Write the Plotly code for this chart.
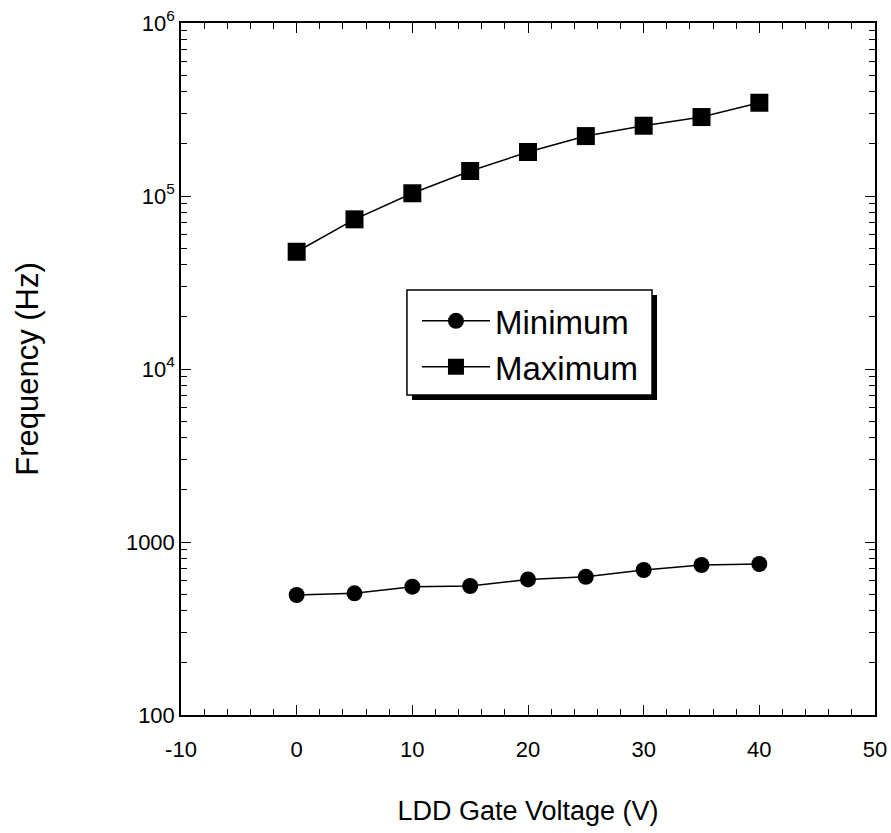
import plotly.graph_objects as go

# LDD gate voltage sweep and measured frequency limits
gate_voltage = [0, 5, 10, 15, 20, 25, 30, 35, 40]
freq_minimum = [494, 505, 552, 557, 608, 629, 689, 736, 746]
freq_maximum = [47600, 73300, 103700, 139500, 179600, 222000, 254800, 286000, 346000]

x_tickvals = [-10, 0, 10, 20, 30, 40, 50]
x_ticktext = ["-10", "0", "10", "20", "30", "40", "50"]
y_tickvals = [100, 1000, 1e4, 1e5, 1e6]
y_ticktext = ["100", "1000", "10<sup>4</sup>", "10<sup>5</sup>", "10<sup>6</sup>"]
y_minor = [m * 10 ** e for e in range(2, 6) for m in range(2, 10)]

FONT = "Liberation Sans, Arial, Helvetica, sans-serif"

fig = go.Figure()
fig.add_trace(go.Scatter(
    x=gate_voltage, y=freq_minimum, name="Minimum", mode="lines+markers",
    line=dict(color="black", width=1.5),
    marker=dict(symbol="circle", size=16, color="black"),
))
fig.add_trace(go.Scatter(
    x=gate_voltage, y=freq_maximum, name="Maximum", mode="lines+markers",
    line=dict(color="black", width=1.5),
    marker=dict(symbol="square", size=18, color="black"),
))

axis_common = dict(
    showline=True, linecolor="black", linewidth=1.5, mirror="allticks",
    ticks="inside", tickcolor="black", showgrid=False, zeroline=False,
    automargin=False,
    tickfont=dict(family=FONT, size=22, color="black"),
)

fig.update_xaxes(
    range=[-10, 50], tickvals=x_tickvals, ticktext=x_ticktext, ticklen=10, tickwidth=1.2,
    ticklabelstandoff=14,
    minor=dict(dtick=2, ticks="inside", ticklen=6, tickcolor="black", showgrid=False),
    title=dict(text="LDD Gate Voltage (V)", font=dict(family=FONT, size=27, color="black"), standoff=40),
    **axis_common,
)
fig.update_yaxes(
    type="log", range=[2, 6], tickvals=y_tickvals, ticktext=y_ticktext, ticklen=10, tickwidth=1.2,
    minor=dict(tickvals=y_minor, ticks="inside", ticklen=6, tickcolor="black", showgrid=False),
    title=dict(text="Frequency (Hz)", font=dict(family=FONT, size=31, color="black"), standoff=78),
    **axis_common,
)

# legend frame with a drop shadow on its right and bottom edges
bx0, bx1, by0, by1 = 0.3256, 0.6787, 0.4625, 0.6142
sh = 0.0072
fig.add_shape(type="rect", xref="paper", yref="paper",
              x0=bx0 + sh, x1=bx1 + sh, y0=by0 - sh, y1=by1 - sh,
              fillcolor="black", line=dict(width=0), layer="above")
fig.add_shape(type="rect", xref="paper", yref="paper",
              x0=bx0, x1=bx1, y0=by0, y1=by1,
              fillcolor="white", line=dict(color="black", width=1.5), layer="above")

fig.update_layout(
    width=891, height=833,
    margin=dict(l=181, r=16, t=23, b=118),
    paper_bgcolor="white", plot_bgcolor="white",
    legend=dict(
        x=0.3400, y=0.6100, xanchor="left", yanchor="top",
        bgcolor="rgba(0,0,0,0)", borderwidth=0,
        font=dict(family=FONT, size=33, color="black"),
        itemwidth=68,
    ),
)

fig.write_html("out.html")
